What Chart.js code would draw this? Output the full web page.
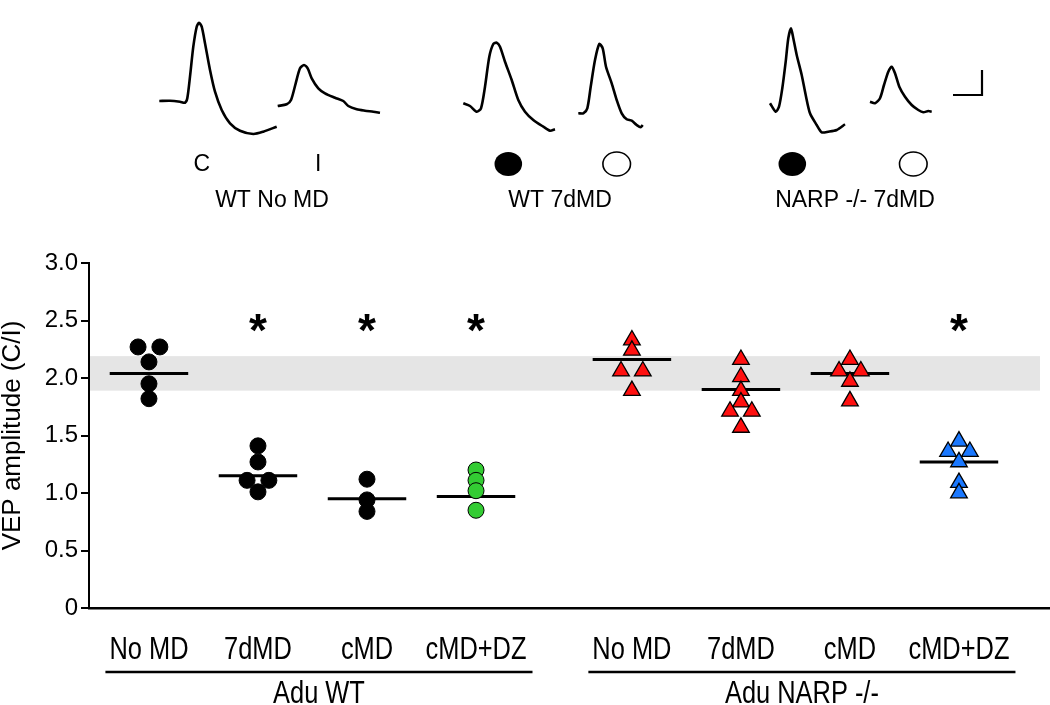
<!DOCTYPE html>
<html><head><meta charset="utf-8">
<script src="https://cdn.jsdelivr.net/npm/chart.js@4.4.1/dist/chart.umd.min.js"></script>
<style>
html,body{margin:0;padding:0;background:#fff;}
#wrap{position:relative;width:1050px;height:705px;overflow:hidden;}
#main{position:absolute;left:0;top:0;}
#top{position:absolute;left:0;top:0;}
</style></head><body>
<div id="wrap">
<canvas id="main" width="1050" height="705"></canvas>
<canvas id="top" width="1050" height="240"></canvas>
</div>
<script>
// ---------------- DATA ----------------
const categories = ['No MD','7dMD','cMD','cMD+DZ','No MD','7dMD','cMD','cMD+DZ'];
const genotypes  = ['Adu WT','Adu NARP -/-'];
const wtNoMD    = [2.27, 2.27, 2.14, 1.95, 1.82];
const wt7dMD    = [1.41, 1.27, 1.11, 1.11, 1.01];
const wtCMD     = [1.12, 0.94, 0.84];
const wtCMDDZ   = [1.20, 1.11, 1.02, 0.85];
const narpNoMD  = [2.33, 2.24, 2.06, 2.06, 1.89];
const narp7dMD  = [2.16, 2.01, 1.89, 1.79, 1.71, 1.71, 1.57];
const narpCMD   = [2.16, 2.06, 2.06, 1.97, 1.80];
const narpCMDDZ = [1.45, 1.36, 1.36, 1.27, 1.09, 1.00];
const groupMeans  = [2.04, 1.15, 0.95, 0.97, 2.16, 1.90, 2.04, 1.27];
const significant = [false, true, true, true, false, false, false, true];
const controlBand = [1.89, 2.19];
const yTickValues = [0, 0.5, 1.0, 1.5, 2.0, 2.5, 3.0];
const yTickLabels = ['0','0.5','1.0','1.5','2.0','2.5','3.0'];
const yTitle = 'VEP amplitude (C/I)';

// example VEP traces (time offset, amplitude relative to baseline, arbitrary units)
const trace1T = [0,10.7,20.7,25.7,28,30.7,34,37.4,39.7,42.4,45.7,50.7,55.7,62.4,70.7,80.7,94,104,117.4];
const trace1V = [0,0.3,-0.7,-1.7,2.7,24.3,54.3,74.3,78.3,74.3,57.7,31,9.3,-9,-22.3,-29.7,-33,-30.7,-25.7];
const trace2T = [0,9,13.3,18,22.3,26.3,30,34,40.6,47.3,57.3,65.6,70.6,79,87.3,95.6,102.3];
const trace2V = [0,1.7,6,22.7,37.7,41,37.7,27.7,17.7,12.7,8.3,5,0,-3.3,-4.7,-5.7,-6.7];
const trace3T = [0,6.7,13.4,17.7,21.7,26,30,33.4,36.7,41.7,48.4,55,61.7,70,80,86.7,91.7];
const trace3V = [0,-2.7,-8.4,-5,16.6,46.6,59.3,60.6,56.6,41.6,23.3,3.3,-8.4,-16.7,-23.4,-27.4,-26];
const trace4T = [0,5,9,12.4,16.7,21,24.4,27.7,33.4,38.4,43.4,48.4,53.4,58.4,62.4,64.4];
const trace4V = [0,0,5,26.6,53.3,69.3,65,46.6,30,13.3,0,-6,-7.4,-11.7,-14,-11.7];
const trace5T = [0,5.7,9,12.3,15.7,18.3,21,23.3,26.7,31.7,35.7,40,46.7,51.7,58.3,66.7,75];
const trace5V = [0,-8.4,-3.4,15,41.6,65,75,65,48.3,28.3,8.3,-10,-21.7,-29,-28.4,-26.7,-21];
const trace6T = [0,5,10,14,18.3,21.7,25,29.3,35,41.7,48.3,53.3,58.3,61.7];
const trace6V = [0,-1.6,3.4,16.7,30,35,28.4,15,5,-3.3,-8.3,-10.6,-9.3,-10];
const scaleBarT = [0, 29, 29];
const scaleBarV = [0, 0, 25];
const traceLabels = ['C','I','','','',''];
const traceSymbols = ['text','text','filled','open','filled','open'];
const panelTitles = ['WT No MD','WT 7dMD','NARP -/- 7dMD'];

// ---------------- LAYOUT / STYLE ----------------
const FONT = "'Liberation Sans', Arial, Helvetica, sans-serif";
const NARROW_SCALE = 0.82;
const CAT_FONT = 31;
Chart.defaults.font.family = FONT;
Chart.defaults.color = '#000';

const groups = [wtNoMD, wt7dMD, wtCMD, wtCMDDZ, narpNoMD, narp7dMD, narpCMD, narpCMDDZ];
const fills = ['#000000','#000000','#000000','#33cc33','#ff1010','#ff1010','#ff1010','#1a78ff'];
const GENO_GAP = 0.43;
const pos = i => i + (i >= 4 ? GENO_GAP : 0);
const X_MIN = -0.55, X_MAX = 8.265;
const JIT = 0.2, MEAN_HALF = 0.36;

function tieOffsets(vals) {
  return vals.map((v, j) => {
    const ties = vals.map((w, k) => [w, k]).filter(([w]) => Math.abs(w - v) < 0.005).map(([, k]) => k);
    const n = ties.length, r = ties.indexOf(j);
    return (r - (n - 1) / 2) * JIT;
  });
}

const datasets = [];
groups.forEach((vals, i) => {
  const offs = tieOffsets(vals);
  const circle = i < 4;
  datasets.push({
    data: vals.map((v, j) => ({ x: pos(i) + offs[j], y: v })),
    pointStyle: circle ? 'circle' : 'triangle',
    pointRadius: circle ? 8 : 9.6,
    pointHoverRadius: circle ? 8 : 9.6,
    backgroundColor: fills[i],
    borderColor: '#000',
    borderWidth: circle ? 1 : 1.3,
    order: 1
  });
  datasets.push({
    data: [{ x: pos(i) - MEAN_HALF, y: groupMeans[i] }, { x: pos(i) + MEAN_HALF, y: groupMeans[i] }],
    showLine: true, borderColor: '#000', borderWidth: 3, pointRadius: 0, pointHoverRadius: 0,
    order: 2
  });
});

const bandPlugin = {
  id: 'band',
  beforeDatasetsDraw(chart) {
    const { ctx, chartArea, scales: { y } } = chart;
    const top = y.getPixelForValue(controlBand[1]);
    const bot = y.getPixelForValue(controlBand[0]);
    ctx.save();
    ctx.fillStyle = '#e5e5e5';
    ctx.fillRect(chartArea.left + 1, top, chartArea.right - chartArea.left - 11, bot - top);
    ctx.restore();
  }
};

const starPlugin = {
  id: 'stars',
  afterDatasetsDraw(chart) {
    const { ctx, scales: { x, y } } = chart;
    ctx.save();
    ctx.font = 'bold 46px ' + FONT;
    ctx.textAlign = 'center';
    ctx.textBaseline = 'alphabetic';
    ctx.fillStyle = '#000';
    significant.forEach((s, i) => {
      if (!s) return;
      ctx.fillText('*', x.getPixelForValue(pos(i)), y.getPixelForValue(2.5) + 0.56 * 46);
    });
    ctx.restore();
  }
};

function narrowText(ctx, text, x, y) {
  ctx.save();
  ctx.translate(x, y);
  ctx.scale(NARROW_SCALE, 1);
  ctx.fillText(text, 0, 0);
  ctx.restore();
}

const categoryPlugin = {
  id: 'categoryLabels',
  afterDraw(chart) {
    const { ctx, chartArea, scales: { x } } = chart;
    ctx.save();
    ctx.font = CAT_FONT + 'px ' + FONT;
    ctx.fillStyle = '#000';
    ctx.strokeStyle = '#000';
    ctx.textAlign = 'center';
    ctx.textBaseline = 'middle';
    const labelY = chartArea.bottom + 42;
    categories.forEach((c, i) => narrowText(ctx, c, x.getPixelForValue(pos(i)), labelY));
    genotypes.forEach((g, gi) => {
      const a = gi * 4, b = gi * 4 + 3;
      const left = x.getPixelForValue(pos(a)) - ctx.measureText(categories[a]).width * NARROW_SCALE / 2 - 4;
      const right = x.getPixelForValue(pos(b)) + ctx.measureText(categories[b]).width * NARROW_SCALE / 2 + 6;
      ctx.lineWidth = 2.5;
      ctx.beginPath();
      ctx.moveTo(left, chartArea.bottom + 64); ctx.lineTo(right, chartArea.bottom + 64);
      ctx.stroke();
      narrowText(ctx, g, (left + right) / 2, chartArea.bottom + 86);
    });
    ctx.restore();
  }
};

new Chart(document.getElementById('main'), {
  type: 'scatter',
  data: { datasets },
  plugins: [bandPlugin, starPlugin, categoryPlugin],
  options: {
    responsive: false, animation: false, devicePixelRatio: 1,
    layout: { autoPadding: false, padding: { top: 263, left: 0, right: 0, bottom: 0 } },
    plugins: { legend: { display: false }, tooltip: { enabled: false } },
    scales: {
      x: {
        type: 'linear', min: X_MIN, max: X_MAX,
        afterFit(s) { s.height = 97; s.paddingLeft = 0; s.paddingRight = 0; },
        ticks: { display: false },
        grid: { display: false, drawTicks: false },
        border: { display: true, color: '#000', width: 2.5 }
      },
      y: {
        type: 'linear', min: 0, max: 3,
        afterFit(s) { s.width = 89; },
        afterBuildTicks(s) { s.ticks = yTickValues.map(v => ({ value: v })); },
        ticks: {
          padding: 3, font: { size: 24 },
          callback: (v, i) => yTickLabels[i]
        },
        grid: { display: true, drawOnChartArea: false, drawTicks: true, tickLength: 8, color: '#000', lineWidth: 2 },
        border: { display: true, color: '#000', width: 2 },
        title: { display: true, text: yTitle, font: { size: 26, lineHeight: 1 }, padding: 0 }
      }
    }
  }
});

// ---------------- TOP PANEL (example traces) ----------------
const traceOrigins = [[159.3, 101], [277.7, 106], [463.3, 103.3], [578.3, 113.3], [770, 103.3], [870, 101.7]];
const scaleBarOrigin = [953, 95];
const TOP_H = 240;
const traces = [[trace1T, trace1V], [trace2T, trace2V], [trace3T, trace3V], [trace4T, trace4V], [trace5T, trace5V], [trace6T, trace6V]];
const topSets = traces.map(([t, v], i) => ({
  data: t.map((tt, j) => ({ x: traceOrigins[i][0] + tt, y: (TOP_H - traceOrigins[i][1]) + v[j] })),
  showLine: true, borderColor: '#000', borderWidth: 2.6, pointRadius: 0, tension: 0.25
}));
topSets.push({
  data: scaleBarT.map((tt, j) => ({ x: scaleBarOrigin[0] + tt, y: (TOP_H - scaleBarOrigin[1]) + scaleBarV[j] })),
  showLine: true, borderColor: '#000', borderWidth: 2.2, pointRadius: 0, tension: 0
});
const symbolX = [201.7, 318.3, 508.3, 616.7, 792.3, 913.3];
const titleX = [272, 560, 855];

const topLabels = {
  id: 'topLabels',
  afterDraw(chart) {
    const { ctx, scales: { x, y } } = chart;
    ctx.save();
    ctx.fillStyle = '#000'; ctx.strokeStyle = '#000';
    ctx.font = '23px ' + FONT;
    ctx.textAlign = 'center'; ctx.textBaseline = 'middle';
    const sy = y.getPixelForValue(TOP_H - 164);
    traceSymbols.forEach((s, i) => {
      const px = x.getPixelForValue(symbolX[i]);
      if (s === 'text') { ctx.fillText(traceLabels[i], px, sy + 1); }
      else {
        ctx.beginPath();
        ctx.ellipse(px, sy, 13.8, 12, 0, 0, Math.PI * 2);
        if (s === 'filled') ctx.fill(); else { ctx.lineWidth = 1.6; ctx.stroke(); }
      }
    });
    const ty = y.getPixelForValue(TOP_H - 201);
    panelTitles.forEach((t, i) => ctx.fillText(t, x.getPixelForValue(titleX[i]), ty));
    ctx.restore();
  }
};

new Chart(document.getElementById('top'), {
  type: 'scatter',
  data: { datasets: topSets },
  plugins: [topLabels],
  options: {
    responsive: false, animation: false, devicePixelRatio: 1,
    layout: { autoPadding: false, padding: 0 },
    plugins: { legend: { display: false }, tooltip: { enabled: false } },
    scales: {
      x: { type: 'linear', min: 0, max: 1050, display: false },
      y: { type: 'linear', min: 0, max: TOP_H, display: false }
    }
  }
});
</script>
</body></html>
